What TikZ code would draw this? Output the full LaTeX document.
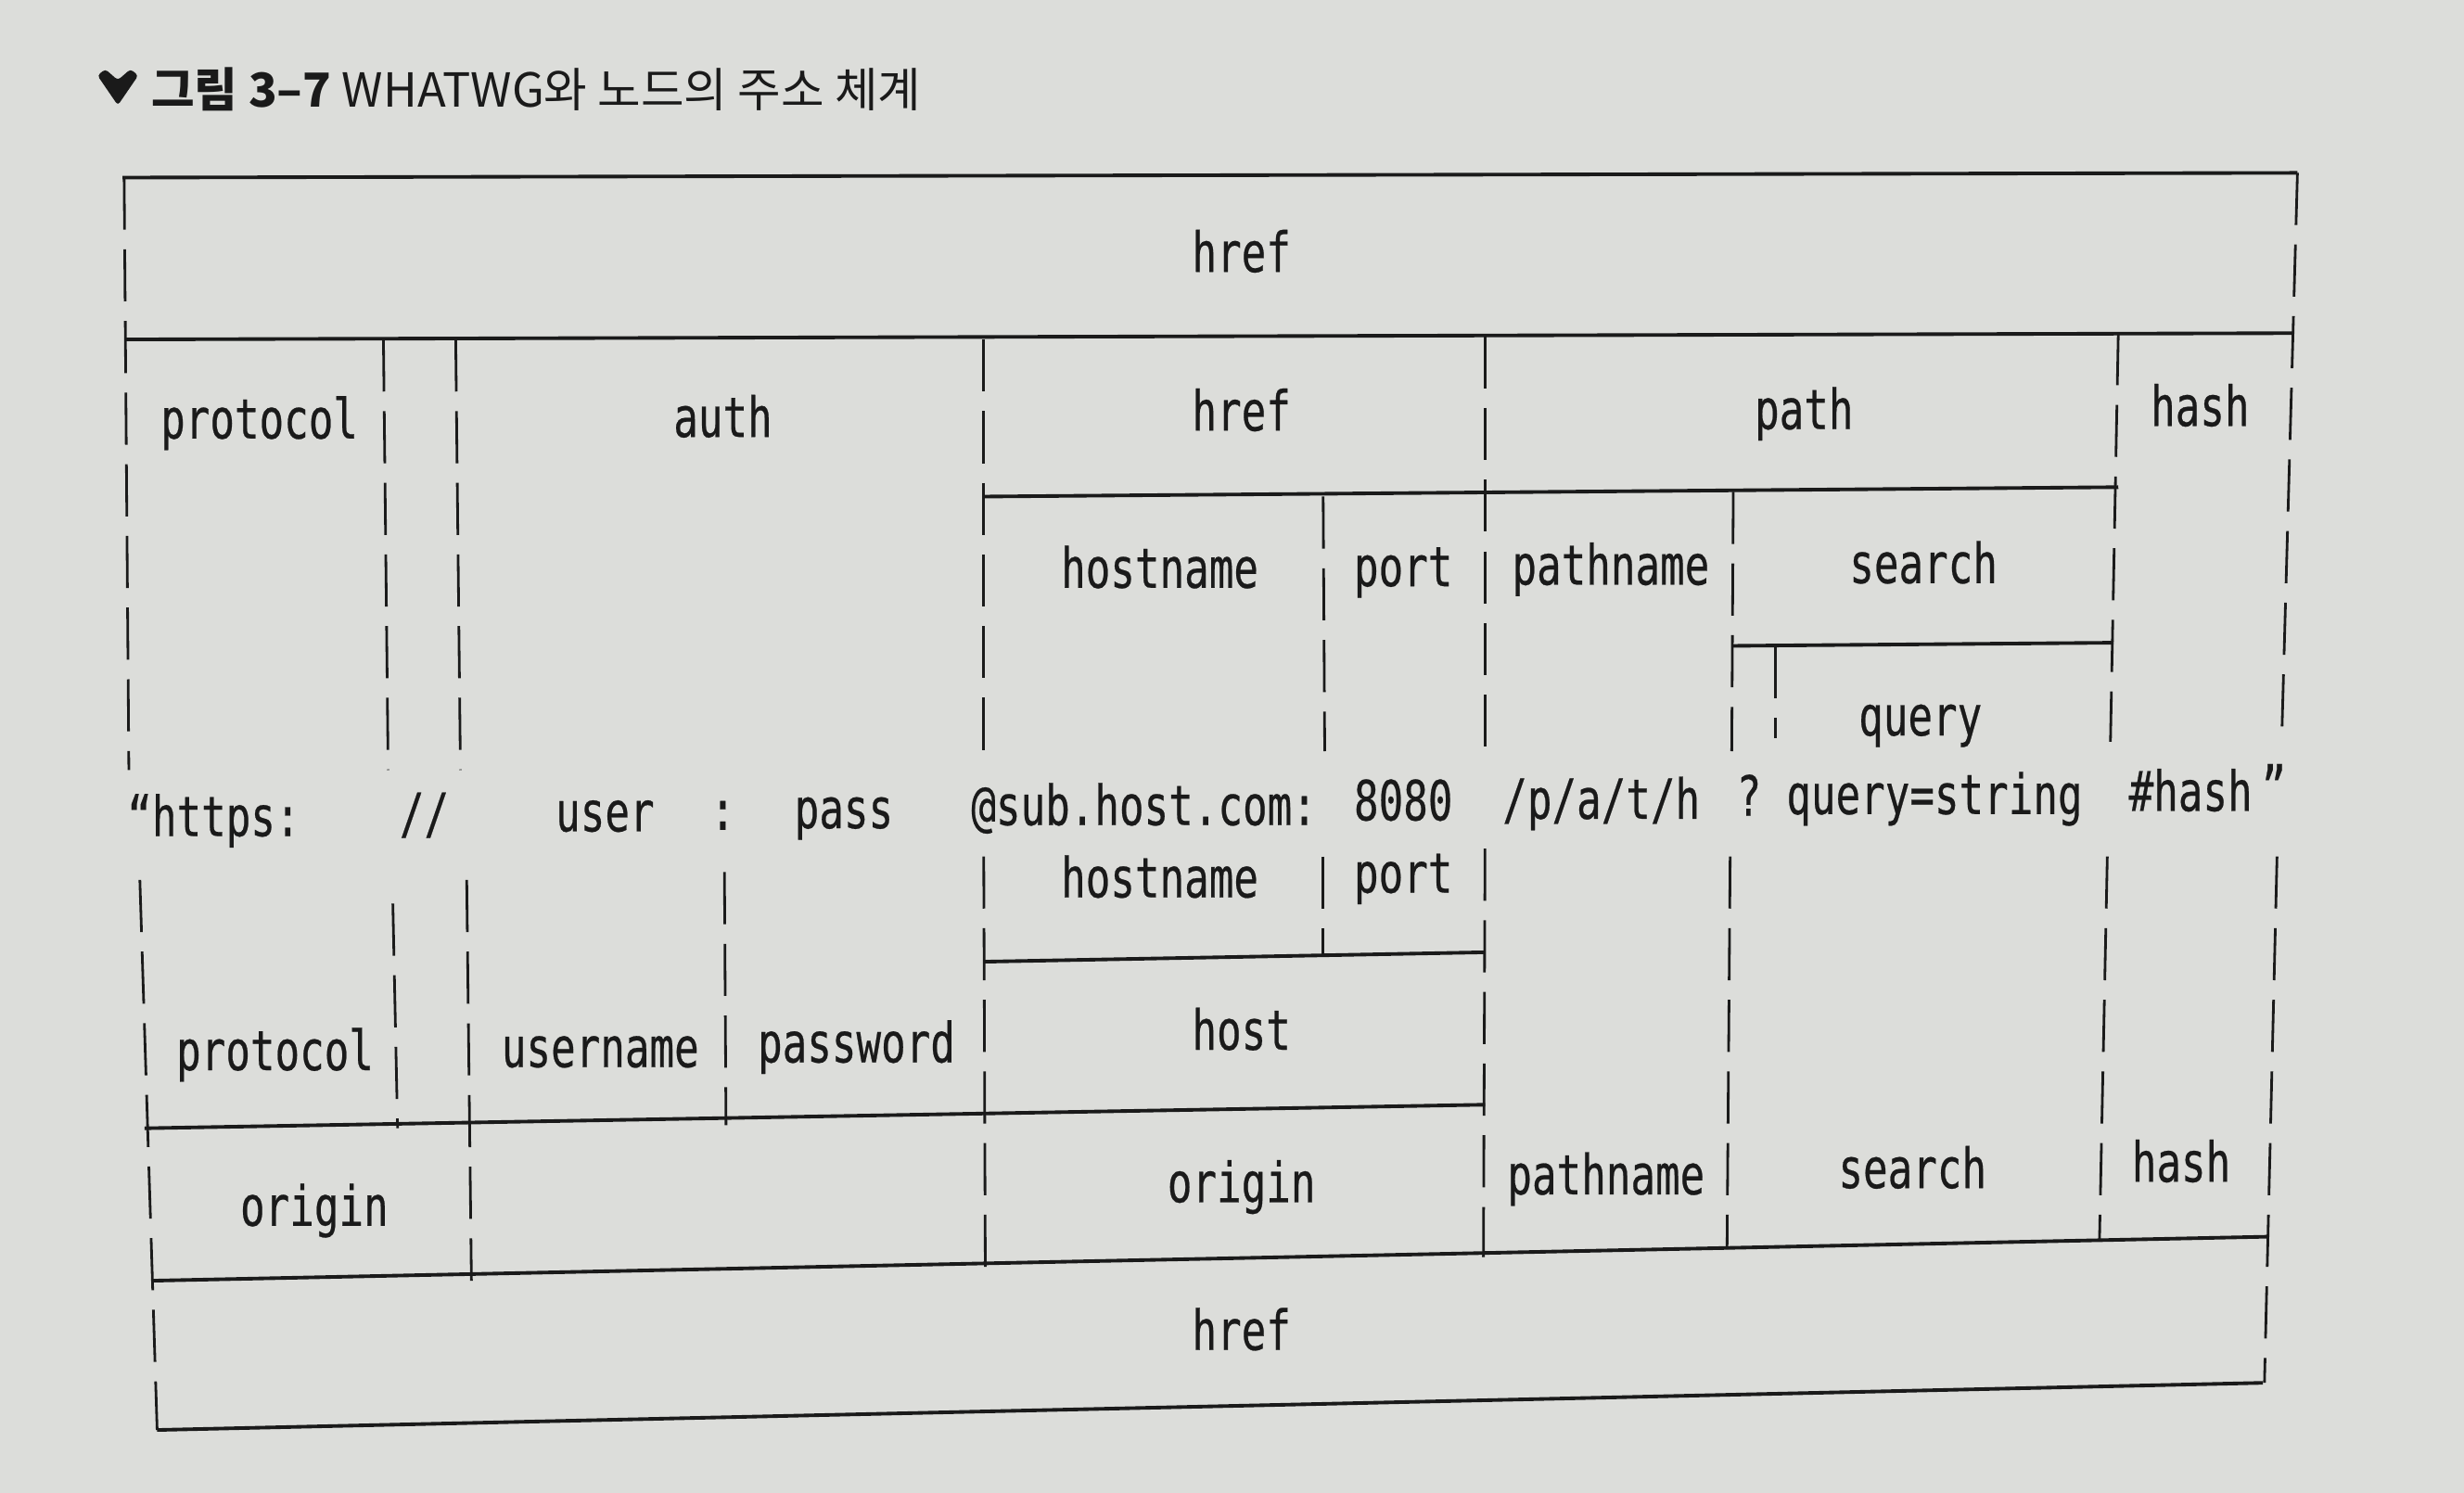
\documentclass[tikz,border=0pt]{standalone}
\usepackage{fontspec}
\newfontfamily\krfont{Noto Sans CJK KR}
\newfontfamily\urlmono[FakeStretch=0.74,FakeBold=0.4]{DejaVu Sans Mono}
\definecolor{paper}{RGB}{220,221,218}
\definecolor{ink}{RGB}{26,26,26}

\begin{document}
\begin{tikzpicture}[
    x=0.016945cm, y=-0.016945cm,
    part/.style={font=\urlmono\fontsize{17}{20}\selectfont,text=ink,inner sep=0pt,text height=1.6ex,text depth=0.45ex,yshift=-0.1cm},
    rule/.style={draw=ink,line width=1.1pt},
    divider/.style={draw=ink,line width=0.8pt,dash pattern=on 16pt off 6pt}
]
    \fill[paper] (0,0) rectangle (1568,950);
    \useasboundingbox (0,0) rectangle (1568,950);

    % Caption
    \fill[ink,rounded corners=1pt] (62,48) -- (67,44) -- (75,51) -- (83,44) -- (88,48) -- (75,67) -- cycle;
    \node[anchor=west,inner sep=0pt,text=ink,font=\krfont\fontsize{14.4}{16}\selectfont] (caption) at (96,57) {\textbf{그림 3–7} WHATWG와 노드의 주소 체계};

    % Upper half (node url)
    \draw[rule] (78,113) -- (1462,110);
    \draw[rule] (80,216) -- (1459,212);
    \draw[rule] (626,316) -- (1348,310);
    \draw[rule] (1103,411) -- (1345,409);
    \draw[divider] (79,113) -- (82,490);
    \draw[divider] (244,216) -- (247,490);
    \draw[divider] (290,216) -- (293,490);
    \draw[divider] (626,216) -- (626,482);
    \draw[divider] (842,316) -- (843,478);
    \draw[divider] (945,214) -- (945,480);
    \draw[divider] (1103,313) -- (1102,478);
    \draw[divider] (1130,411) -- (1130,470);
    \draw[divider] (1348,212) -- (1343,472);
    \draw[divider] (1462,110) -- (1452,470);

    \node[part] (hrefTop) at (790,162) {href};
    \node[part] (protoTop) at (165,268) {protocol};
    \node[part] (authTop) at (460,267) {auth};
    \node[part] (hostTop) at (790,263) {href};
    \node[part] (pathTop) at (1148,262) {path};
    \node[part] (hashTop) at (1400,260) {hash};
    \node[part] (hostnameTop) at (738,363) {hostname};
    \node[part] (portTop) at (893,362) {port};
    \node[part] (pathnameTop) at (1025,361) {pathname};
    \node[part] (searchTop) at (1224,360) {search};
    \node[part] (queryTop) at (1222,457) {query};

    % The address itself
    \node[part] (uScheme) at (136,521) {“https:};
    \node[part] (uSlash) at (270,519) {//};
    \node[part] (uUser) at (385,518) {user};
    \node[part] (uColon) at (460,517) {:};
    \node[part] (uPass) at (537,516) {pass};
    \node[part] (uHost) at (728,514) {@sub.host.com:};
    \node[part] (uPort) at (893,511) {8080};
    \node[part] (uPath) at (1019,510) {/p/a/t/h};
    \node[part] (uQmark) at (1113,508) {?};
    \node[part] (uQuery) at (1231,507) {query=string};
    \node[part] (uHash) at (1394,505) {\#hash};
    \node[part] (uEnd) at (1447,502) {”};

    % Lower half (WHATWG URL)
    \draw[rule] (626,612) -- (945,606);
    \draw[rule] (92,718) -- (945,703);
    \draw[rule] (97,815) -- (1443,787);
    \draw[rule] (100,910) -- (1440,880);
    \draw[divider] (89,560) -- (100,910);
    \draw[divider] (250,575) -- (253,718);
    \draw[divider] (297,560) -- (300,815);
    \draw[divider] (461,555) -- (462,716);
    \draw[divider] (626,545) -- (627,808);
    \draw[divider] (842,545) -- (842,608);
    \draw[divider] (945,540) -- (944,800);
    \draw[divider] (1101,545) -- (1099,795);
    \draw[divider] (1341,545) -- (1336,790);
    \draw[divider] (1449,545) -- (1441,880);

    \node[part] (hostnameBot) at (738,560) {hostname};
    \node[part] (portBot) at (893,557) {port};
    \node[part] (protoBot) at (175,670) {protocol};
    \node[part] (userBot) at (382,668) {username};
    \node[part] (passBot) at (545,665) {password};
    \node[part] (hostBot) at (790,657) {host};
    \node[part] (originLeft) at (200,769) {origin};
    \node[part] (originRight) at (790,754) {origin};
    \node[part] (pathnameBot) at (1022,749) {pathname};
    \node[part] (searchBot) at (1217,745) {search};
    \node[part] (hashBot) at (1388,741) {hash};
    \node[part] (hrefBot) at (790,848) {href};
\end{tikzpicture}
\end{document}
